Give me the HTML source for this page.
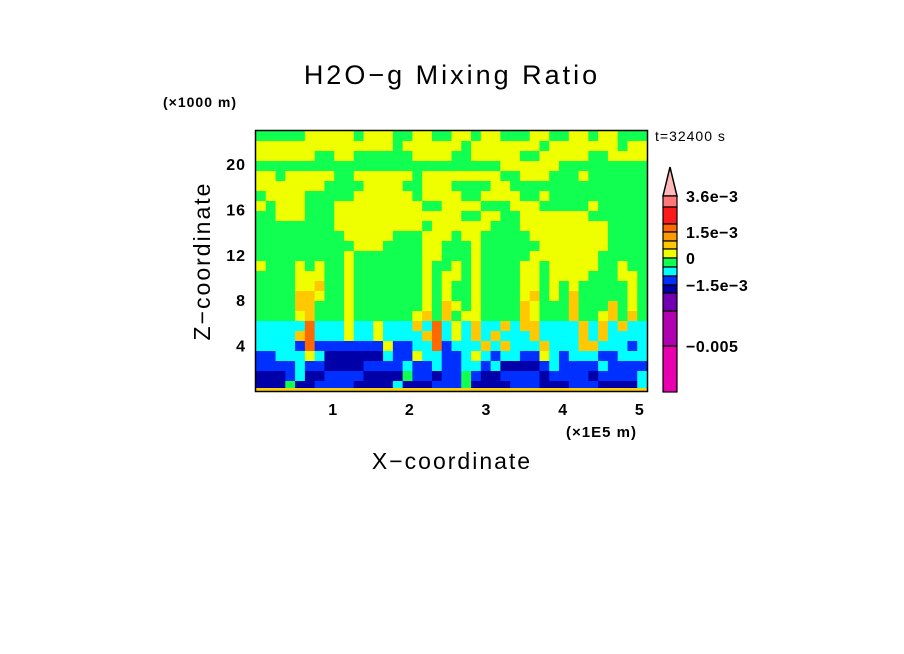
<!DOCTYPE html>
<html><head><meta charset="utf-8">
<style>
html,body{margin:0;padding:0;background:#fff;}
svg{display:block;font-family:"Liberation Sans",sans-serif;}
</style></head>
<body>
<svg id="chart" width="904" height="654" viewBox="0 0 904 654" xmlns="http://www.w3.org/2000/svg">
<rect x="0" y="0" width="904" height="654" fill="#fff"/>
<text x="452" y="84" font-size="27" letter-spacing="3" text-anchor="middle" fill="#000">H2O−g Mixing Ratio</text>
<text x="163" y="107" font-size="14" font-weight="bold" letter-spacing="1" fill="#000">(×1000 m)</text>
<text x="655" y="141" font-size="14" letter-spacing="1" fill="#000">t=32400 s</text>
<g id="field"></g>
<rect x="255.5" y="130.5" width="392" height="261" fill="none" stroke="#000" stroke-width="1.5"/>
<g id="xticks"></g>
<g id="yticks"></g>
<text x="566" y="437" font-size="15" font-weight="bold" letter-spacing="1" fill="#000">(×1E5 m)</text>
<text x="452" y="469" font-size="23" letter-spacing="2" text-anchor="middle" fill="#000">X−coordinate</text>
<text x="0" y="0" font-size="23" letter-spacing="2" text-anchor="middle" fill="#000" transform="translate(210,261) rotate(-90)">Z−coordinate</text>
<g id="colorbar"></g>
</svg>
<script>
// ---- data ----
const xTicks = [1, 2, 3, 4, 5];
const yTicks = [4, 8, 12, 16, 20];
const cbLabels = ["3.6e-3", "1.5e-3", "0", "-1.5e-3", "-0.005"];
const cbLabelIdx = [0, 3, 6, 9, 12];
const levelColors = ["#ff7878", "#ff1a1a", "#ff6a00", "#ff9a00", "#ffc800", "#f0ff00", "#10ff50", "#00ffff", "#0030ff", "#0000a8", "#7000b0", "#b000b0", "#e800b0"];
const levelKeys = ["P", "R", "O", "Q", "A", "Y", "G", "C", "B", "D", "V", "M", "K"];
// field: each row = background char then overrides "Ya-b"
const fieldRows = [
"G Y5-9 Y11-13 Y16-17 Y20-21 Y23-24 Y28-29 Y32-33 Y35-36",
"Y G14 G21 G29 G37",
"Y G6-7 G10-15 G20-21 G27-28 G34-35",
"G Y25-30",
"Y G2 G8-9 G16 G25-26 G30-32 G34-39",
"Y G7-10 G15-16 G20-23 G26-39",
"G Y1-4 Y10-15 Y17-20 Y23-26 Y29",
"G Y0 Y2-4 Y8-16 Y19-22 Y26-28 Y34",
"G Y2-4 Y8-20 Y23-24 Y27-33",
"G Y8-16 Y18-23 Y27-35",
"G Y9-13 Y17-19 Y21-22 Y28-35",
"G Y10-12 Y17-18 Y22 Y29-35",
"G Y9 Y17-18 Y22 Y28-34",
"G Y0 Y4 Y6 Y9 Y17 Y20 Y22 Y27-28 Y30-34 Y37",
"G Y4-6 Y9 Y17 Y19-20 Y22 Y27-28 Y30-33 Y37-38",
"G Y4-5 A6 Y9 Y17 Y19 Y22 Y27-28 Y30 Y32 Y38",
"G A4-5 Y6 Y9 Y17 Y19 Y22 Y27 A28 Y30 A32 Y38",
"G A4-5 Y9 Y17 A19 Y20 Y22 A27 Y28 A32 A36 Y38",
"G Y4 A5 Y9 Y16 A17 A19 Y21 Y22 A27 Y28 A32 Y35 A36 A38",
"C O5 Y9 Y12 A16 O18 Y20 A22 A25 A27-28 A33 A35 A37",
"C A4 O5 Y9 Y12 A17 O18 Y20 A22 A24 A28 A33 A35",
"C B4 O5 B6-12 Y13 B14-15 O18 B19 A23 A25 A29 A33-34 B38",
"C B0-1 Y5 D7-12 B14-15 Y16 B19-20 Y22 B24 B27-28 Y29 B31 B35-36",
"C B0-3 B5-6 D7-10 B11-14 B16-17 B19-20 B23 D25-28 B29 B31-34 B36-39",
"B D0-2 C4 D5-6 D11-14 G15 D18 G21 D23-24 D29 D34 C39",
"B D0-2 G3 D4-5 D10-13 C14 D15-17 G21 D22-25 D29-31 D35-38 C39"
];
const NS = "http://www.w3.org/2000/svg";
const PX0 = 256, PX1 = 647, PY0 = 131, PY1 = 391;
const xMin = 0, xMax = 5.1, zMin = 0, zMax = 22.9;
const xs = v => PX0 + (v - xMin) / (xMax - xMin) * (PX1 - PX0);
const ys = v => PY1 - (v - zMin) / (zMax - zMin) * (PY1 - PY0);
function el(tag, attrs, parent) {
  const e = document.createElementNS(NS, tag);
  for (const k in attrs) e.setAttribute(k, attrs[k]);
  parent.appendChild(e);
  return e;
}
const colorOf = {};
levelKeys.forEach((k, i) => colorOf[k] = levelColors[i]);
const field = document.getElementById('field');
const nRows = fieldRows.length, nCols = 40;
const cw = (PX1 - PX0) / nCols, ch = (PY1 - PY0) / nRows;
fieldRows.forEach((row, r) => {
  const parts = row.split(' ');
  const cells = new Array(nCols).fill(parts[0]);
  parts.slice(1).forEach(p => {
    const c = p[0];
    const rng = p.slice(1).split('-').map(Number);
    const a = rng[0], b = rng.length > 1 ? rng[1] : rng[0];
    for (let i = a; i <= b; i++) cells[i] = c;
  });
  cells.forEach((c, i) => {
    const rc = el('rect', {x: (PX0 + i * cw).toFixed(2), y: (PY0 + r * ch).toFixed(2), width: (cw + 0.6).toFixed(2), height: (ch + 0.6).toFixed(2), fill: colorOf[c]}, field);
    
    
  });
});
const strip = el('rect', {x: PX0, y: PY1 - 3, width: PX1 - PX0, height: 3, fill: '#ffd000'}, field);


const xt = document.getElementById('xticks');
xTicks.forEach(v => {
  const t = el('text', {x: xs(v), y: 415, 'font-size': 16, 'font-weight': 'bold', 'text-anchor': 'middle'}, xt);
  
  
  t.textContent = v;
});
const yt = document.getElementById('yticks');
yTicks.forEach(v => {
  const t = el('text', {x: 246, y: ys(v) + 6, 'font-size': 16, 'font-weight': 'bold', 'text-anchor': 'end', 'letter-spacing': 1}, yt);
  
  
  t.textContent = v;
});
const cb = document.getElementById('colorbar');
const cbY = [196, 207, 224, 232, 241, 249, 258, 267, 276, 285, 293, 311, 346, 392];
const tri = el('polygon', {points: '663,196 677,196 670,167', fill: '#ffb8b8', stroke: '#000', 'stroke-width': 1.5}, cb);


levelColors.forEach((c, i) => {
  const r = el('rect', {x: 663, y: cbY[i], width: 14, height: cbY[i + 1] - cbY[i], fill: c, stroke: '#000', 'stroke-width': 1.2}, cb);
  
  
});
cbLabels.forEach((s, i) => {
  const t = el('text', {x: 686, y: cbY[cbLabelIdx[i]] + 6, 'font-size': 16, 'font-weight': 'bold', 'letter-spacing': 0.5}, cb);
  
  
  t.textContent = s.replace(/-/g, '−');
});
</script>
</body></html>
